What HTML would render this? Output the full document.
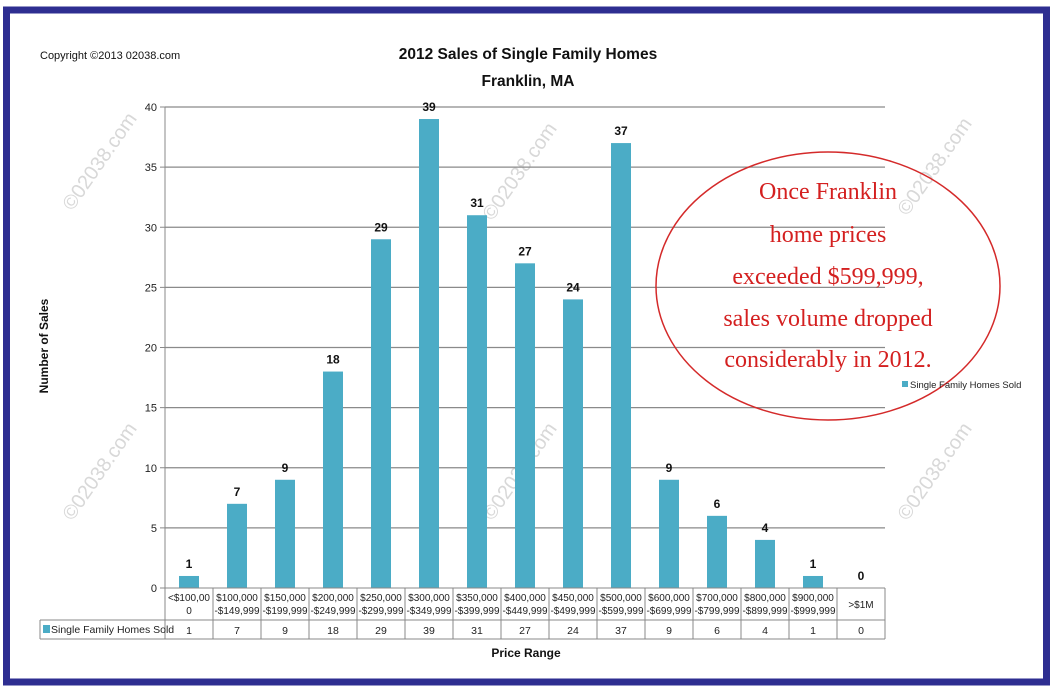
<!DOCTYPE html>
<html><head><meta charset="utf-8"><style>
html,body{margin:0;padding:0;background:#fff;}
svg{display:block;font-family:"Liberation Sans",sans-serif;}
</style></head><body>
<svg id="chart" width="1059" height="692" viewBox="0 0 1059 692" xmlns="http://www.w3.org/2000/svg">
<rect x="6.5" y="10" width="1040" height="672" fill="#fff" stroke="#2e2e91" stroke-width="7"/>
<text x="40" y="59" font-size="11" fill="#111">Copyright ©2013 02038.com</text>
<text x="528" y="59" font-size="15.5" font-weight="bold" text-anchor="middle" fill="#111">2012 Sales of Single Family Homes</text>
<text x="528" y="86" font-size="15.5" font-weight="bold" text-anchor="middle" fill="#111">Franklin, MA</text>
<g id="watermarks" fill="#d8d8d8" font-size="20"></g>
<g id="grid"></g>
<g id="bars"></g>
<g id="yaxis"></g>
<g id="table"></g>
<text transform="translate(48,346) rotate(-90)" font-size="12" font-weight="bold" text-anchor="middle" fill="#111">Number of Sales</text>
<text x="526" y="657" font-size="12" font-weight="bold" text-anchor="middle" fill="#111">Price Range</text>
<ellipse cx="828" cy="286" rx="172" ry="134" fill="none" stroke="#d42a2a" stroke-width="1.5"/>
<g font-family="Liberation Serif, serif" font-size="24" fill="#d42020" text-anchor="middle">
<text x="828" y="199">Once Franklin</text>
<text x="828" y="242">home prices</text>
<text x="828" y="284">exceeded $599,999,</text>
<text x="828" y="326">sales volume dropped</text>
<text x="828" y="367">considerably in 2012.</text>
</g>
<rect x="902" y="381" width="6" height="6" fill="#4bacc6"/>
<text x="910" y="388" font-size="9.5" fill="#222">Single Family Homes Sold</text>
</svg>
<script>
const categories=[["<$100,00","0"],["$100,000","-$149,999"],["$150,000","-$199,999"],["$200,000","-$249,999"],["$250,000","-$299,999"],["$300,000","-$349,999"],["$350,000","-$399,999"],["$400,000","-$449,999"],["$450,000","-$499,999"],["$500,000","-$599,999"],["$600,000","-$699,999"],["$700,000","-$799,999"],["$800,000","-$899,999"],["$900,000","-$999,999"],[">$1M"]];
const values=[1,7,9,18,29,39,31,27,24,37,9,6,4,1,0];
const yTicks=[0,5,10,15,20,25,30,35,40];
const NS="http://www.w3.org/2000/svg";
const X0=165,X1=885,Y0=588,Y1=107,YMAX=40;
const colW=(X1-X0)/categories.length;
function y(v){return Y0-(Y0-Y1)*v/YMAX;}
function xc(i){return X0+colW*(i+0.5);}
function mk(tag,attrs,parent,txt){const e=document.createElementNS(NS,tag);for(const k in attrs)e.setAttribute(k,attrs[k]);if(txt!==undefined)e.textContent=txt;parent.appendChild(e);return e;}
const wm=document.getElementById('watermarks');
[[105,165],[525,175],[940,170],[105,475],[525,475],[940,475]].forEach(p=>{
 const t=mk('text',{transform:`translate(${p[0]},${p[1]}) rotate(-55)`,'text-anchor':'middle'},wm,'©02038.com');
 
 
});
const grid=document.getElementById('grid'),ya=document.getElementById('yaxis');
yTicks.forEach(v=>{
 if(v>0){const l=mk('line',{x1:X0,x2:X1,y1:y(v),y2:y(v),stroke:'#8a8a8a','stroke-width':1.2},grid);
 
 }
 mk('line',{x1:X0-5,x2:X0,y1:y(v),y2:y(v),stroke:'#888'},ya);
 const t=mk('text',{x:X0-8,y:y(v)+4,'font-size':11,'text-anchor':'end',fill:'#222'},ya,v);
 
 
});
mk('line',{x1:X0,x2:X0,y1:Y1,y2:Y0,stroke:'#888'},ya);
const bars=document.getElementById('bars');
values.forEach((v,i)=>{
 const b=mk('rect',{x:xc(i)-10,y:y(v),width:20,height:Y0-y(v),fill:'#4bacc6'},bars);
 
 
 const t=mk('text',{x:xc(i),y:y(v)-8,'font-size':12,'font-weight':'bold','text-anchor':'middle',fill:'#111'},bars,v);
 
 
});
const tb=document.getElementById('table');
const R0=588,R1=620,R2=639,L=40;
mk('line',{x1:X0,x2:X1,y1:R0,y2:R0,stroke:'#888'},tb);
mk('line',{x1:L,x2:X1,y1:R1,y2:R1,stroke:'#888'},tb);
mk('line',{x1:L,x2:X1,y1:R2,y2:R2,stroke:'#888'},tb);
mk('line',{x1:L,x2:L,y1:R1,y2:R2,stroke:'#888'},tb);
for(let i=0;i<=categories.length;i++){const x=X0+colW*i;mk('line',{x1:x,x2:x,y1:R0,y2:R2,stroke:'#888'},tb);}
mk('rect',{x:43,y:625,width:7,height:8,fill:'#4bacc6'},tb);
const lt=mk('text',{x:51,y:633,'font-size':10.5,fill:'#222'},tb,'Single Family Homes Sold');


categories.forEach((c,i)=>{
 if(c.length===1){const t=mk('text',{x:xc(i),y:608,'font-size':10,'text-anchor':'middle',fill:'#222'},tb,c[0]);
  
  }
 else c.forEach((s,j)=>{const t=mk('text',{x:xc(i),y:601+j*13,'font-size':10,'text-anchor':'middle',fill:'#222'},tb,s);
  
  });
 const v=mk('text',{x:xc(i),y:634,'font-size':10.5,'text-anchor':'middle',fill:'#222'},tb,values[i]);
 
 
});
</script>
</body></html>
